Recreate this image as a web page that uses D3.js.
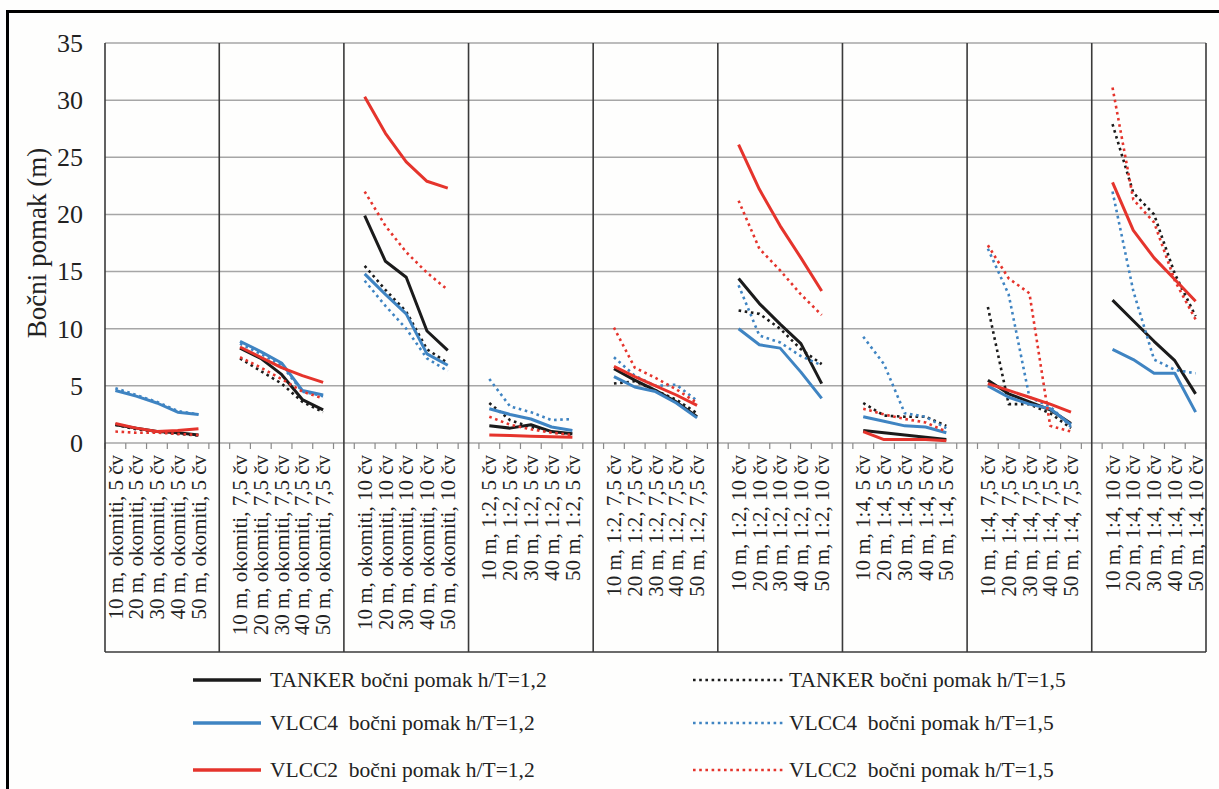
<!DOCTYPE html>
<html>
<head>
<meta charset="utf-8">
<script src="https://cdn.jsdelivr.net/npm/d3@7"></script>
<style>
  html, body { margin: 0; padding: 0; background: #ffffff; }
  svg { display: block; }
  text { font-family: "Liberation Serif", "Times New Roman", serif; fill: #222; }
</style>
</head>
<body>
<svg id="chart" width="1219" height="789"></svg>
<script>
// ---------- data ----------
const distances = ["10 m", "20 m", "30 m", "40 m", "50 m"];
const groups = ["okomiti, 5 čv", "okomiti, 7,5 čv", "okomiti, 10 čv",
                "1:2, 5 čv", "1:2, 7,5 čv", "1:2, 10 čv",
                "1:4, 5 čv", "1:4, 7,5 čv", "1:4, 10 čv"];
const yTicks = [0, 5, 10, 15, 20, 25, 30, 35];

const tanker12 = [1.6,1.3,1.0,0.9,0.7, 8.3,7.4,6.0,3.8,2.9, 19.9,15.9,14.5,9.8,8.1,
                  1.5,1.3,1.6,1.0,0.8, 6.5,5.5,4.6,3.6,2.3, 14.4,12.2,10.4,8.7,5.2,
                  1.1,0.9,0.7,0.5,0.3, 5.5,4.3,3.6,2.9,1.7, 12.5,10.7,8.9,7.2,4.3];
const tanker15 = [1.6,1.2,1.0,0.8,0.65, 7.4,6.3,5.2,3.6,2.7, 15.5,13.4,11.5,8.2,7.0,
                  3.5,2.0,1.4,1.0,0.7, 5.2,5.4,4.6,3.8,2.6, 11.6,11.3,10.0,8.2,6.9,
                  3.5,2.4,2.3,2.3,1.5, 11.9,3.4,3.4,2.6,1.3, 27.9,21.9,20.0,14.8,11.1];
const vlcc4_12 = [4.6,4.1,3.5,2.7,2.5, 8.9,8.0,7.0,4.6,4.2, 14.8,13.0,11.3,7.8,6.8,
                  3.0,2.5,2.1,1.4,1.1, 5.8,4.9,4.5,3.5,2.2, 10.0,8.6,8.3,6.2,3.9,
                  2.3,1.9,1.5,1.4,0.9, 5.0,4.0,3.4,3.0,1.6, 8.2,7.3,6.1,6.1,2.7];
const vlcc4_15 = [4.8,4.2,3.6,2.8,2.5, 8.7,7.8,6.8,4.5,4.1, 14.2,12.0,10.0,7.4,6.3,
                  5.6,3.2,2.7,2.0,2.1, 7.5,5.9,5.0,5.1,3.7, 13.8,9.4,8.8,7.6,6.8,
                  9.3,6.9,2.6,2.3,1.3, 17.0,13.0,4.0,3.2,1.4, 22.0,13.3,7.3,6.4,6.1];
const vlcc2_12 = [1.7,1.3,1.0,1.1,1.25, 8.4,7.5,6.6,5.9,5.3, 30.3,27.1,24.6,22.9,22.3,
                  0.7,0.65,0.6,0.55,0.5, 6.7,5.8,5.0,4.2,3.3, 26.1,22.2,19.0,16.2,13.3,
                  1.0,0.3,0.3,0.3,0.2, 5.2,4.6,4.0,3.4,2.7, 22.8,18.6,16.2,14.3,12.4];
const vlcc2_15 = [1.0,0.9,0.9,0.8,0.7, 7.5,6.6,5.6,4.5,3.9, 22.0,19.0,16.7,14.9,13.4,
                  2.3,1.6,1.2,0.9,0.7, 10.1,6.6,5.7,4.7,3.5, 21.2,17.0,15.1,13.0,11.2,
                  3.0,2.5,2.1,1.8,1.0, 17.3,14.4,13.1,1.5,1.0, 31.1,21.3,19.3,14.2,10.8];

const seriesNames = ["TANKER bočni pomak h/T=1,2", "TANKER bočni pomak h/T=1,5",
                     "VLCC4  bočni pomak h/T=1,2", "VLCC4  bočni pomak h/T=1,5",
                     "VLCC2  bočni pomak h/T=1,2", "VLCC2  bočni pomak h/T=1,5"];
const seriesValues = [tanker12, tanker15, vlcc4_12, vlcc4_15, vlcc2_12, vlcc2_15];
const yTitle = "Bočni pomak (m)";

// ---------- styles ----------
const BLACK = "#1b1b1b", BLUE = "#3f84c2", RED = "#e5342c";
const seriesColors = [BLACK, BLACK, BLUE, BLUE, RED, RED];
const seriesDotted = [false, true, false, true, false, true];

// ---------- layout ----------
const plot = { left: 105, right: 1206, top: 43, bottom: 443 };
const labelBoxBottom = 652;

const svg = d3.select("#chart");
svg.append("rect").attr("width", 1219).attr("height", 789).attr("fill", "#fefefd");
// outer frame (top + left visible)
svg.append("rect").attr("x", 7.5).attr("y", 11.5).attr("width", 1240).attr("height", 820)
  .attr("fill", "none").attr("stroke", "#000").attr("stroke-width", 3);

// slot keys: 5 categories per group, a blank slot between groups
const slots = [];
groups.forEach((g, gi) => {
  distances.forEach((d, di) => slots.push({ key: `c${gi}_${di}`, label: `${d}, ${g}`, g: gi, i: di }));
  if (gi < groups.length - 1) slots.push({ key: `b${gi}`, label: "", blank: true, g: gi });
});

const x = d3.scaleBand().domain(slots.map(s => s.key)).range([plot.left, plot.right]).padding(0);
const bw = x.bandwidth();
const y = d3.scaleLinear().domain([0, 35]).range([plot.bottom, plot.top]);

// gridlines
svg.append("g").selectAll("line").data(yTicks).join("line")
  .attr("x1", plot.left).attr("x2", plot.right)
  .attr("y1", d => y(d)).attr("y2", d => y(d))
  .attr("stroke", "#a6a6a6").attr("stroke-width", 1.5);

// tick marks at slot boundaries
const boundaries = slots.map(s => x(s.key)).concat([plot.right]);
svg.append("g").selectAll("line").data(boundaries).join("line")
  .attr("x1", d => d).attr("x2", d => d)
  .attr("y1", plot.bottom).attr("y2", plot.bottom + 6)
  .attr("stroke", "#8a8a8a").attr("stroke-width", 1.2);

// group separators (through the middle of blank slots), plus plot borders
const sepX = [plot.left].concat(slots.filter(s => s.blank).map(s => x(s.key) + bw / 2)).concat([plot.right]);
svg.append("g").selectAll("line").data(sepX).join("line")
  .attr("x1", d => d).attr("x2", d => d)
  .attr("y1", plot.top).attr("y2", labelBoxBottom)
  .attr("stroke", "#3a3a3a").attr("stroke-width", 1.6);
svg.append("line").attr("x1", plot.left).attr("x2", plot.right)
  .attr("y1", labelBoxBottom).attr("y2", labelBoxBottom)
  .attr("stroke", "#3a3a3a").attr("stroke-width", 1.6);

// y tick labels
svg.append("g").selectAll("text").data(yTicks).join("text")
  .attr("x", 83).attr("y", d => y(d)).attr("dy", "0.34em")
  .attr("text-anchor", "end").attr("font-size", 26).text(d => d);

// y title
svg.append("text").attr("transform", `translate(46,${(plot.top + plot.bottom) / 2}) rotate(-90)`)
  .attr("text-anchor", "middle").attr("font-size", 27).text(yTitle);

// category labels (rotated)
svg.append("g").selectAll("text").data(slots.filter(s => !s.blank)).join("text")
  .attr("transform", s => `translate(${x(s.key) + bw / 2},455) rotate(-90)`)
  .attr("dy", "0.34em").attr("text-anchor", "end").attr("font-size", 21)
  .text(s => s.label);

// series lines, each group drawn separately
const line = d3.line().x(d => x(d.key) + bw / 2).y(d => y(d.v));
seriesValues.forEach((vals, si) => {
  const gSel = svg.append("g");
  groups.forEach((g, gi) => {
    const pts = distances.map((d, di) => ({ key: `c${gi}_${di}`, v: vals[gi * 5 + di] }));
    gSel.append("path").attr("d", line(pts))
      .attr("fill", "none").attr("stroke", seriesColors[si])
      .attr("stroke-width", seriesDotted[si] ? 2.6 : 3)
      .attr("stroke-linejoin", "round")
      .attr("stroke-dasharray", seriesDotted[si] ? "2.6,3.6" : null);
  });
});

// legend
const legendRows = [680, 723, 770];
seriesNames.forEach((name, si) => {
  const col = si % 2, row = Math.floor(si / 2);
  const x0 = col === 0 ? 193 : 693, x1 = col === 0 ? 261 : 783, tx = col === 0 ? 270 : 789;
  const ly = legendRows[row];
  svg.append("line").attr("x1", x0).attr("x2", x1).attr("y1", ly).attr("y2", ly)
    .attr("stroke", seriesColors[si])
    .attr("stroke-width", seriesDotted[si] ? 2.6 : 3.5)
    .attr("stroke-dasharray", seriesDotted[si] ? "2.6,3.6" : null);
  svg.append("text").attr("x", tx).attr("y", ly).attr("dy", "0.33em")
    .attr("font-size", 21.5).style("white-space", "pre").text(name);
});
</script>
</body>
</html>
